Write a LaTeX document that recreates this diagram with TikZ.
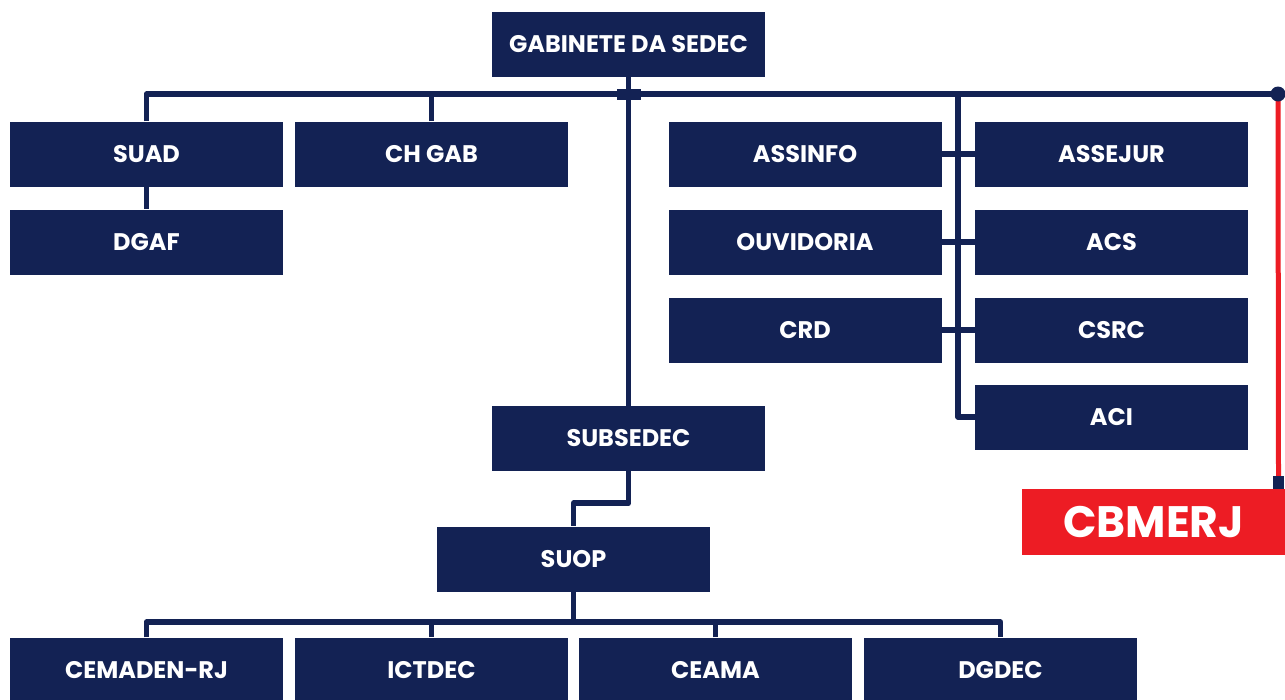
\documentclass[tikz,border=0pt]{standalone}
\usepackage{fontspec}
\setmainfont{Poppins}
\definecolor{sedecblue}{HTML}{132254}
\definecolor{sedecred}{HTML}{ED1C24}
\tikzset{
  unit/.style={fill=sedecblue, text=white, minimum width=273pt, minimum height=65pt,
    inner sep=0pt, font=\fontsize{24}{28}\selectfont\bfseries},
  cbm/.style={fill=sedecred, text=white, minimum width=263pt, minimum height=66pt,
    inner sep=0pt, font=\fontsize{44}{48}\selectfont\bfseries},
  link/.style={draw=sedecblue, line width=5.5pt},
  redlink/.style={draw=sedecred, line width=5pt},
  tab/.style={fill=sedecblue, inner sep=0pt, minimum width=11pt, minimum height=13pt}
}
\begin{document}
\begin{tikzpicture}[x=1pt, y=-1pt, line join=round]
  \useasboundingbox (0,0) rectangle (1285,699);
  % units
  \node[unit] (gab) at (628.5,44.5) {GABINETE DA SEDEC};
  \node[unit] (suad) at (146.5,154) {SUAD};
  \node[unit] (chgab) at (431.5,154) {CH GAB};
  \node[unit] (dgaf) at (146.5,242) {DGAF};
  \node[unit] (assinfo) at (805,154) {ASSINFO};
  \node[unit] (assejur) at (1111.5,154) {ASSEJUR};
  \node[unit] (ouvid) at (805,242) {OUVIDORIA};
  \node[unit] (acs) at (1111.5,242) {ACS};
  \node[unit] (crd) at (805,330) {CRD};
  \node[unit] (csrc) at (1111.5,330) {CSRC};
  \node[unit] (aci) at (1111.5,417) {ACI};
  \node[unit] (subsedec) at (628.5,438.5) {SUBSEDEC};
  \node[unit] (suop) at (573.5,559) {SUOP};
  \node[unit] (cemaden) at (146.5,670) {CEMADEN-RJ};
  \node[unit] (ictdec) at (431.5,670) {ICTDEC};
  \node[unit] (ceama) at (715.5,670) {CEAMA};
  \node[unit] (dgdec) at (1000.5,670) {DGDEC};
  \node[cbm] (cbmerj) at (1153.5,522) {CBMERJ};
  \node[tab] (tabr) at (1278.5,482.5) {};
  % buses
  \coordinate (busR) at (1278,94);
  \coordinate (spine) at (958,94);
  \coordinate (busB) at (573.5,622);
  % red link
  \draw[redlink] (busR) -- (tabr.north);
  % top level
  \draw[link] (suad.north) |- (busR);
  \draw[link] (chgab.north) -- (chgab.north |- busR);
  \draw[link] (suad) -- (dgaf);
  \draw[link] (gab.south) -- (subsedec.north);
  \fill[sedecblue] (617,89) rectangle (641,100);
  \fill[sedecblue] (busR) circle (7.5);
  % advisory units
  \draw[link] (spine) |- (aci.west);
  \draw[link] (assinfo) -- (assejur);
  \draw[link] (ouvid) -- (acs);
  \draw[link] (crd) -- (csrc);
  % operations
  \draw[link] (subsedec.south) -- ++(0,32) -| (suop.north);
  \draw[link] (suop.south) -- (busB);
  \draw[link] (cemaden.north) |- (busB) -| (dgdec.north);
  \draw[link] (ictdec.north) -- (ictdec.north |- busB);
  \draw[link] (ceama.north) -- (ceama.north |- busB);
\end{tikzpicture}
\end{document}
